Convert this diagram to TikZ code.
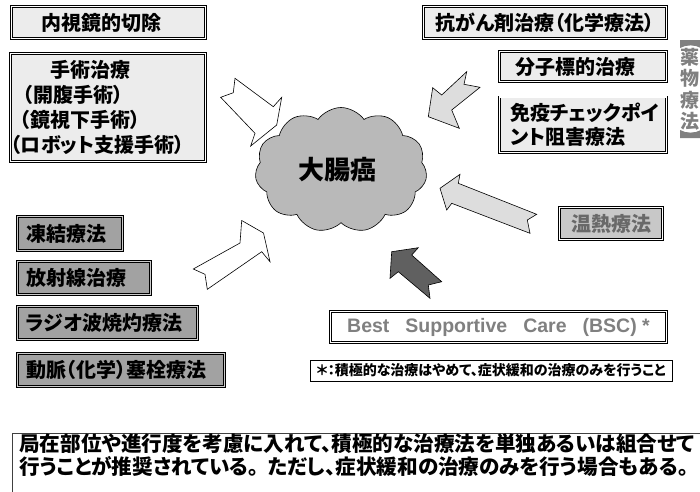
\documentclass[tikz,border=0pt]{standalone}
\usepackage{fontspec}
\setmainfont{Noto Sans CJK JP}[RawFeature=+palt]
\newfontfamily\lat{Liberation Sans}
\usetikzlibrary{shapes.symbols}
\definecolor{topfill}{RGB}{236,236,236}
\definecolor{leftfill}{RGB}{162,162,162}
\definecolor{thermfill}{RGB}{200,200,200}
\definecolor{thermtext}{RGB}{105,105,105}
\definecolor{bsctext}{RGB}{128,128,128}
\definecolor{vlabel}{RGB}{128,128,128}
\definecolor{cloudfill}{RGB}{185,185,185}
\definecolor{arrowlight}{RGB}{221,221,221}
\definecolor{arrowdark}{RGB}{96,96,96}
\tikzset{
  dblbox/.style={rectangle, inner sep=0pt, draw=black, line width=0.6pt, double distance=1.4pt},
  topbox/.style={dblbox, fill=topfill, double=white, font=\fontsize{20}{25}\selectfont\bfseries},
  leftbox/.style={dblbox, fill=leftfill, double=leftfill!55!white, font=\fontsize{20}{25}\selectfont\bfseries, align=left},
  thermbox/.style={dblbox, fill=thermfill, double=white, text=thermtext, font=\fontsize{20}{25}\selectfont\bfseries},
  bscbox/.style={dblbox, fill=white, double=white, text=bsctext, font=\lat\fontsize{19.5}{22}\selectfont\bfseries},
  notebox/.style={rectangle, inner sep=0pt, draw=black, line width=0.7pt, fill=white, font=\fontsize{14}{16}\selectfont\bfseries},
  vtext/.style={text=vlabel, align=center, inner sep=0pt, font=\fontsize{19}{21.5}\selectfont\bfseries},
  blockarrow/.style={draw=black, line width=0.6pt, line join=miter},
}
\begin{document}
\begin{tikzpicture}[x=1pt,y=-1pt]
\useasboundingbox (0,0) rectangle (700,491);
\clip (0,0) rectangle (700,491);
\fill[white] (0,0) rectangle (700,491);

% top-left boxes
\node[topbox, minimum width=194pt, minimum height=32pt] (endo) at (108.5,22.5) {内視鏡的切除\hspace*{14pt}};
\node[topbox, minimum width=195.4pt, minimum height=108.4pt, text width=195pt, align=left] (surg) at (108,107.5)
  {\hspace*{39.5pt}手術治療\\\hspace*{12.5pt}（開腹手術）\\\hspace*{9.5pt}（鏡視下手術）\\（ロボット支援手術）};

% top-right boxes
\node[topbox, minimum width=243.4pt, minimum height=32.4pt] (chemo) at (545,22.5) {抗がん剤治療（化学療法）};
\node[topbox, minimum width=167.4pt, minimum height=30.4pt] (target) at (583,66.5) {分子標的治療\hspace*{16pt}};
\node[topbox, minimum width=167.4pt, minimum height=55.4pt, text width=146pt, align=left, font=\fontsize{20}{24}\selectfont\bfseries] (immune) at (583,124.5) {免疫チェックポイ\\ント阻害療法};

% vertical label 【薬物療法】 (brackets in vertical form)
\fill[vlabel] (680,40) -- (701,40) -- (701,48) .. controls (695,44.5) and (686,44.5) .. (680,48) -- cycle;
\node[vtext] (drug) at (690,89.5) {薬\\物\\療\\法};
\fill[vlabel] (680,138) -- (701,138) -- (701,130) .. controls (695,133.5) and (686,133.5) .. (680,130) -- cycle;

% cloud
\node[cloud, cloud puffs=11, cloud puff arc=110, cloud ignores aspect, minimum width=172pt, minimum height=125pt,
      fill=cloudfill, draw=black, line width=0.6pt, inner sep=0pt, font=\fontsize{26}{30}\selectfont\bfseries] (cancer) at (341,170) {\hspace*{-8pt}\raisebox{-5pt}{大腸癌}};

% left boxes
\node[leftbox, minimum width=105.4pt, minimum height=34.4pt, text width=88pt] (cryo) at (70,233.5) {凍結療法};
\node[leftbox, minimum width=133.4pt, minimum height=33.4pt, text width=116pt] (radio) at (84,278) {放射線治療};
\node[leftbox, minimum width=180.4pt, minimum height=33.4pt, text width=163pt] (rfa) at (107.5,323) {ラジオ波焼灼療法};
\node[leftbox, minimum width=207.4pt, minimum height=33.4pt, text width=190pt] (tace) at (121,370) {動脈（化学）塞栓療法};

% right boxes
\node[thermbox, minimum width=103.4pt, minimum height=32.4pt] (therm) at (611,223.5) {温熱療法};
\node[bscbox, minimum width=336.4pt, minimum height=31.4pt] (bsc) at (498.5,327) {Best\hspace{16pt}Supportive\hspace{16pt}Care\hspace{16pt}(BSC) *};
\node[notebox, minimum width=362pt, minimum height=21pt] (note) at (491,370.5) {＊：積極的な治療はやめて、症状緩和の治療のみを行うこと};

% block arrows
\draw[blockarrow, fill=white] (235,78.3) -- (233.3,92.7) -- (220.7,97.3) -- (255,133.3) -- (250.7,146) -- (276.7,125) -- (281.7,97.3) -- (273.3,106.7) -- cycle;
\draw[blockarrow, fill=arrowlight] (466.7,71.7) -- (464,84.3) -- (480,87.3) -- (451.7,110) -- (459.3,128.3) -- (428.3,116.7) -- (432.7,87.7) -- (441.7,95) -- cycle;
\draw[blockarrow, fill=arrowlight] (440,188.3) -- (460,174.3) -- (458.3,183.3) -- (536.7,214.3) -- (527.3,220) -- (530,233.3) -- (451.7,203.3) -- (446.7,210) -- cycle;
\draw[blockarrow, fill=arrowdark] (391.7,251.7) -- (418.3,247.7) -- (411.7,255) -- (441.7,281.7) -- (428.3,285) -- (430,298.3) -- (398.3,271.7) -- (390,278.3) -- cycle;
\draw[blockarrow, fill=white] (193.3,269) -- (205,274.3) -- (207.3,289.3) -- (261.7,251.7) -- (270,261.7) -- (263.5,233) -- (241.7,220.5) -- (240,243) -- cycle;

% summary
\node[rectangle, draw=black!75, line width=0.8pt, anchor=north west, minimum width=700pt, minimum height=80pt, inner sep=0pt] (sumbox) at (12,433) {};
\node[anchor=north west, align=left, inner sep=0pt, font=\fontsize{20.6}{23}\selectfont\bfseries] (sumtext) at (19,433.5)
  {局在部位や進行度を考慮に入れて、積極的な治療法を単独あるいは組合せて\\行うことが推奨されている。\hspace{9pt}ただし、症状緩和の治療のみを行う場合もある。};
\end{tikzpicture}
\end{document}
